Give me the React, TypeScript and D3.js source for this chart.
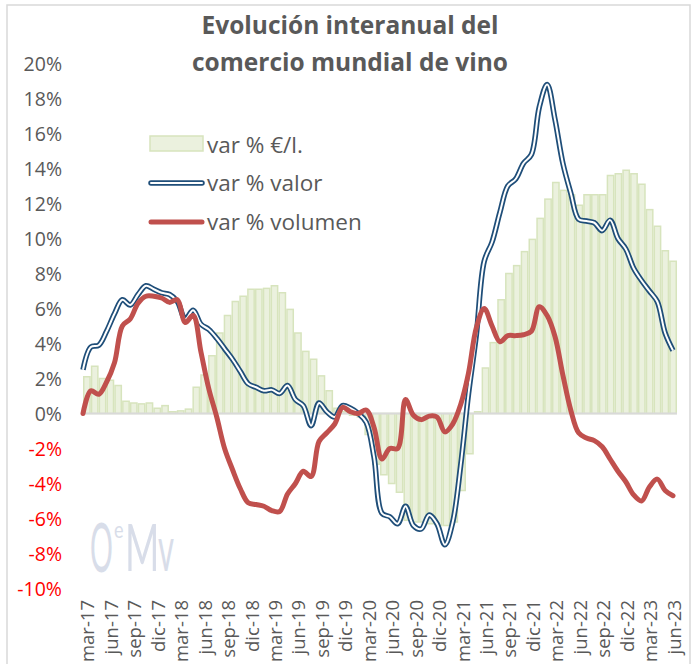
import React from "react";
import * as d3 from "d3";

const MONTHS = ["ene", "feb", "mar", "abr", "may", "jun", "jul", "ago", "sep", "oct", "nov", "dic"];
const categories: string[] = [];
for (let k = 0; k < 76; k++) {
  const m = (2 + k) % 12;
  const yy = 17 + Math.floor((2 + k) / 12);
  categories.push(`${MONTHS[m]}-${yy}`);
}

const tickLabels = [
  "mar-17", "jun-17", "sep-17", "dic-17", "mar-18", "jun-18", "sep-18", "dic-18",
  "mar-19", "jun-19", "sep-19", "dic-19", "mar-20", "jun-20", "sep-20", "dic-20",
  "mar-21", "jun-21", "sep-21", "dic-21", "mar-22", "jun-22", "sep-22", "dic-22",
  "mar-23", "jun-23",
];

const yTicks = [20, 18, 16, 14, 12, 10, 8, 6, 4, 2, 0, -2, -4, -6, -8, -10];

// var % €/l.
const precioLitro = [
  2.1, 2.7, 2.0, 1.9, 1.6, 0.7, 0.6, 0.55, 0.6, 0.3,
  0.45, 0.1, 0.15, 0.25, 1.5, 2.2, 3.3, 4.6, 5.6, 6.4,
  6.7, 7.1, 7.1, 7.15, 7.3, 6.9, 5.95, 4.6, 3.55, 3.1,
  2.15, 1.3, 0.3, 0.1, -0.1, -0.2, -1.2, -2.9, -3.5, -4.0,
  -4.5, -6.1, -6.2, -6.2, -6.3, -6.4, -6.4, -6.2, -4.4, -2.3,
  0.1, 2.6, 4.05, 6.5, 8.0, 8.45, 9.25, 9.95, 11.15, 12.25,
  13.2, 12.75, 12.5, 11.9, 12.5, 12.5, 12.5, 13.6, 13.7, 13.9,
  13.7, 13.1, 11.65, 10.7, 9.3, 8.7,
];

// var % valor
const valor = [
  2.5, 3.8, 3.9, 4.7, 5.7, 6.5, 6.2, 6.8, 7.3, 7.1,
  6.9, 6.8, 6.4, 5.4, 5.9, 5.1, 4.8, 4.3, 3.7, 3.1,
  2.4, 1.7, 1.5, 1.3, 1.35, 1.15, 1.6, 0.8, 0.45, -0.7,
  0.6, 0.1, -0.2, 0.45, 0.3, 0.0, -0.5, -2.5, -5.7, -5.9,
  -6.3, -5.3, -6.4, -6.6, -5.8, -6.3, -7.5, -6.2, -3.0, 1.1,
  4.5, 8.7, 9.8, 11.5, 13.0, 13.4, 14.3, 14.8, 17.5, 18.8,
  16.8, 14.3, 12.6, 11.1, 11.0, 10.9, 10.45, 11.05, 10.0, 9.4,
  8.3, 7.6, 7.0, 6.4, 4.6, 3.6,
];

// var % volumen
const volumen = [
  0.0, 1.3, 1.1, 1.8, 2.9, 5.0, 5.4, 6.3, 6.7, 6.7,
  6.6, 6.35, 6.5, 5.2, 5.6, 3.5, 1.4, -0.2, -2.0, -3.2,
  -4.3, -5.1, -5.2, -5.3, -5.55, -5.6, -4.6, -4.0, -3.3, -3.6,
  -1.6, -1.1, -0.6, 0.35, 0.1, 0.0, 0.2, -0.8, -2.6, -2.0,
  -2.0, 0.8, -0.1, -0.35, -0.15, -0.2, -1.05, -0.6, 0.5, 2.3,
  4.9, 6.0, 5.0, 4.1, 4.45, 4.45, 4.5, 4.7, 6.1, 5.6,
  4.4, 2.2, 0.2, -1.1, -1.4, -1.55, -1.9, -2.6, -3.3, -3.9,
  -4.65, -5.0, -4.2, -3.75, -4.4, -4.7,
];

const FONT = "'Open Sans', 'Liberation Sans', sans-serif";
const GRAY = "#595959";
const BLUE = "#1f4e79";
const RED = "#c0504d";
const BAR_FILL = "#ebf1de";
const BAR_STROKE = "#d7e4bd";

export default function App() {
  const W = 696;
  const H = 664;
  const idx = d3.range(categories.length);
  const y = d3.scaleLinear().domain([-10, 20]).range([588.5, 63.5]);
  const band = d3.scaleBand<number>().domain(idx).range([83, 677]).padding(0);
  const px = d3.scalePoint<number>().domain(idx).range([83, 673]);
  const bw = band.bandwidth();

  const line = d3
    .line<number>()
    .x((_, i) => px(i) as number)
    .y((d) => y(d))
    .curve(d3.curveCatmullRom.alpha(0.5));

  return (
    <svg
      width={W}
      height={H}
      style={{ position: "absolute", left: 0, top: 0, display: "block", background: "#fff" }}
      fontFamily={FONT}
    >
      <rect x={0} y={0} width={W} height={H} fill="#fff" />
      <rect x={7} y={5} width={683} height={680} fill="none" stroke="#d9d9d9" strokeWidth={1.5} />

      {/* title */}
      <text x={350} y={34} textAnchor="middle" fontSize={24.5} fontWeight="bold" fill={GRAY}>
        Evolución interanual del
      </text>
      <text x={350} y={71} textAnchor="middle" fontSize={24.5} fontWeight="bold" fill={GRAY}>
        comercio mundial de vino
      </text>

      {/* y ticks */}
      {yTicks.map((t) => (
        <text
          key={t}
          x={62}
          y={y(t)}
          textAnchor="end"
          dominantBaseline="central"
          fontSize={19.5}
          fill={t < 0 ? "#ff0000" : GRAY}
        >
          {`${t}%`}
        </text>
      ))}

      {/* watermark */}
      <g fill="#d8dde9" fontFamily="Lato, sans-serif">
        <text transform="translate(90,572) scale(0.42,1)" fontSize={68}>O</text>
        <text transform="translate(114,538) scale(0.75,1)" fontSize={24}>e</text>
        <text transform="translate(125,571) scale(0.56,1)" fontSize={66}>M</text>
        <text transform="translate(158,571) scale(0.5,1)" fontSize={62}>v</text>
      </g>

      {/* bars */}
      {precioLitro.map((v, i) => {
        const x = band(i) as number;
        const y0 = y(0);
        const yv = y(v);
        return (
          <rect
            key={i}
            x={x + 0.75}
            y={Math.min(y0, yv)}
            width={bw - 1.5}
            height={Math.abs(yv - y0)}
            fill={BAR_FILL}
            stroke={BAR_STROKE}
            strokeWidth={1.5}
          />
        );
      })}

      {/* zero line */}
      <line x1={83} x2={677} y1={y(0)} y2={y(0)} stroke="#d9d9d9" strokeWidth={2} />

      {/* valor: double line */}
      <path d={line(valor) || ""} fill="none" stroke={BLUE} strokeWidth={5.5} strokeLinejoin="round" />
      <path d={line(valor) || ""} fill="none" stroke="#fff" strokeWidth={2} strokeLinejoin="round" />

      {/* volumen */}
      <path
        d={line(volumen) || ""}
        fill="none"
        stroke={RED}
        strokeWidth={5}
        strokeLinejoin="round"
        strokeLinecap="round"
      />

      {/* x ticks */}
      {tickLabels.map((lab) => {
        const i = categories.indexOf(lab);
        const x = (band(i) as number) + bw / 2;
        return (
          <text
            key={lab}
            transform={`translate(${x},600) rotate(-90)`}
            textAnchor="end"
            dominantBaseline="central"
            fontSize={18.5}
            fill={GRAY}
          >
            {lab}
          </text>
        );
      })}

      {/* legend */}
      <rect x={150} y={136} width={53} height={15} fill={BAR_FILL} stroke={BAR_STROKE} strokeWidth={1.5} />
      <text x={207} y={144} dominantBaseline="central" fontSize={22.5} fill={GRAY}>
        var % €/l.
      </text>
      <line x1={151} x2={202} y1={183} y2={183} stroke={BLUE} strokeWidth={5.5} strokeLinecap="round" />
      <line x1={151} x2={202} y1={183} y2={183} stroke="#fff" strokeWidth={2} strokeLinecap="round" />
      <text x={207} y={182} dominantBaseline="central" fontSize={22.5} fill={GRAY}>
        var % valor
      </text>
      <line x1={151} x2={202} y1={222} y2={222} stroke={RED} strokeWidth={5} strokeLinecap="round" />
      <text x={207} y={221} dominantBaseline="central" fontSize={22.5} fill={GRAY}>
        var % volumen
      </text>
    </svg>
  );
}
